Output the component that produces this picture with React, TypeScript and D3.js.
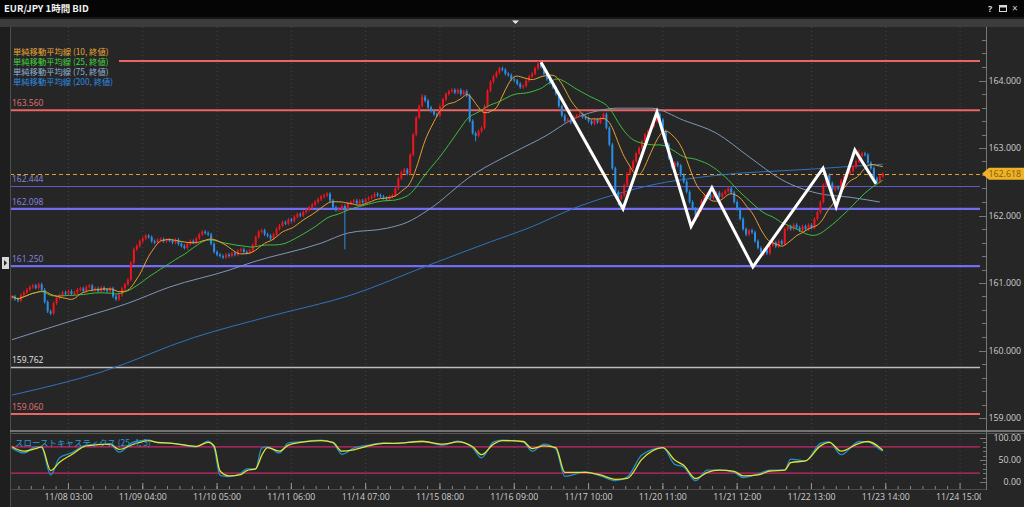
import * as d3 from 'd3';

// hourly closes EUR/JPY (one per bar)
const closes = [
  160.80, 160.76, 160.74, 160.82, 160.86, 160.90, 160.94, 160.96, 160.93, 160.98,
  160.90, 160.72, 160.58, 160.55, 160.70, 160.78, 160.82, 160.86, 160.84, 160.88,
  160.84, 160.86, 160.90, 160.92, 160.88, 160.94, 160.96, 160.90, 160.92, 160.88,
  160.93, 160.90, 160.88, 160.92, 160.80, 160.76, 160.82, 160.92, 160.98, 161.05,
  161.30, 161.50, 161.55, 161.62, 161.66, 161.70, 161.68, 161.62, 161.60, 161.64,
  161.65, 161.62, 161.64, 161.63, 161.60, 161.64, 161.58, 161.55, 161.52, 161.58,
  161.62, 161.60, 161.66, 161.72, 161.76, 161.74, 161.72, 161.58, 161.46, 161.42,
  161.40, 161.38, 161.42, 161.40, 161.44, 161.42, 161.48, 161.50, 161.46, 161.45,
  161.48, 161.56, 161.68, 161.76, 161.78, 161.72, 161.70, 161.66, 161.72, 161.80,
  161.85, 161.90, 161.88, 161.94, 161.92, 161.98, 162.02, 162.00, 162.05, 162.08,
  162.12, 162.16, 162.20, 162.24, 162.28, 162.30, 162.32, 162.22, 162.12, 162.08,
  162.10, 162.14, 162.10, 162.18, 162.20, 162.22, 162.18, 162.22, 162.20, 162.24,
  162.26, 162.28, 162.32, 162.30, 162.28, 162.26, 162.24, 162.28, 162.30, 162.40,
  162.55, 162.64, 162.68, 162.62, 162.90, 163.20, 163.45, 163.62, 163.76, 163.70,
  163.60, 163.55, 163.50, 163.48, 163.62, 163.72, 163.80, 163.84, 163.86, 163.82,
  163.86, 163.80, 163.84, 163.78, 163.40, 163.22, 163.18, 163.25, 163.30, 163.62,
  163.85, 163.98, 164.06, 164.12, 164.18, 164.16, 164.10, 164.08, 164.02, 164.00,
  163.95, 163.90, 163.92, 164.00, 164.06, 164.10, 164.18, 164.25, 164.20, 164.10,
  164.02, 163.96, 163.90, 163.80, 163.62, 163.48, 163.40, 163.42, 163.38, 163.46,
  163.48, 163.50, 163.46, 163.44, 163.40, 163.36, 163.42, 163.38, 163.44, 163.50,
  163.30, 163.05, 162.70, 162.35, 162.25, 162.30, 162.45, 162.62, 162.70, 162.80,
  162.92, 163.00, 163.10, 163.20, 163.25, 163.32, 163.40, 163.50, 163.42, 163.25,
  163.05, 162.85, 162.72, 162.78, 162.74, 162.60, 162.50, 162.35, 162.20, 162.10,
  162.00, 162.08, 162.22, 162.30, 162.32, 162.26, 162.30, 162.34, 162.28, 162.32,
  162.36, 162.40, 162.34, 162.20, 162.10, 161.95, 161.80, 161.72, 161.78, 161.75,
  161.62, 161.52, 161.46, 161.50, 161.44, 161.56, 161.60, 161.54, 161.62, 161.58,
  161.80, 161.84, 161.80, 161.86, 161.82, 161.78, 161.84, 161.80, 161.86, 161.82,
  161.95, 162.05, 162.20, 162.45, 162.60, 162.48, 162.38, 162.42, 162.40, 162.52,
  162.58, 162.62, 162.66, 162.72, 162.80, 162.88, 162.92, 162.90, 162.78, 162.70,
  162.55, 162.50, 162.58, 162.618,
];
const firstOpen = 160.78;

// long wicks that stick out
const wickLowIdx = [112, 156, 204, 230, 253];
const wickLowVal = [161.50, 163.10, 162.15, 161.92, 161.40];
const wickHighIdx = [138, 177, 217, 285];
const wickHighVal = [163.80, 164.29, 163.55, 162.98];

// 75 / 200 bar moving averages (need history before the window), read at a few bars
const ma75Idx = [0, 10, 23, 39, 53, 73, 81, 104, 113, 126, 133, 140, 155, 169, 180, 188, 197, 204, 215, 226, 237, 248, 259, 271, 282, 292];
const ma75Val = [160.16, 160.30, 160.48, 160.70, 160.94, 161.19, 161.31, 161.59, 161.74, 161.81, 161.90, 162.08, 162.60, 162.94, 163.19, 163.41, 163.55, 163.59, 163.59, 163.41, 163.22, 162.87, 162.53, 162.33, 162.27, 162.20];
const ma200Idx = [0, 30, 61, 87, 114, 140, 161, 173, 191, 206, 215, 236, 270, 293];
const ma200Val = [159.34, 159.68, 160.19, 160.51, 160.82, 161.26, 161.61, 161.80, 162.14, 162.35, 162.45, 162.59, 162.69, 162.76];

// slow stochastics (25, 4, 3)
const stochIdx = [0, 4, 8, 10, 13, 16, 20, 25, 33, 36, 41, 46, 49, 54, 62, 66, 68, 70, 73, 77, 79, 82, 84, 86, 90, 93, 97, 104, 108, 111, 115, 120, 125, 129, 138, 145, 150, 155, 158, 162, 165, 172, 175, 179, 183, 186, 193, 198, 203, 207, 212, 219, 223, 226, 230, 234, 238, 243, 246, 251, 255, 260, 262, 267, 272, 275, 279, 285, 288, 292, 293];
const stochK = [77, 66, 80, 78, 16, 55, 66, 84, 86, 68, 91, 95, 89, 88, 80, 93, 77, 15, 12, 20, 30, 30, 77, 80, 66, 89, 91, 95, 89, 63, 77, 84, 89, 88, 93, 84, 93, 77, 55, 91, 95, 91, 70, 86, 75, 13, 23, 14, 3, 11, 62, 78, 40, 34, 3, 27, 27, 22, 10, 18, 27, 27, 52, 48, 88, 91, 62, 92, 91, 74, 70];
const stochD = [80, 70, 76, 80, 26, 45, 62, 82, 86, 74, 86, 94, 90, 88, 81, 90, 82, 25, 14, 17, 26, 30, 60, 78, 70, 84, 90, 94, 90, 70, 73, 82, 88, 88, 92, 86, 91, 80, 62, 86, 94, 92, 76, 82, 78, 22, 22, 16, 6, 8, 52, 78, 50, 38, 8, 22, 27, 24, 14, 16, 25, 27, 44, 48, 82, 90, 70, 88, 92, 78, 72];

// horizontal levels drawn by hand (first label sits under the legend)
const levelVals = [164.288, 163.560, 162.444, 162.098, 161.250, 159.762, 159.060];
const levelKinds = ['red', 'red', 'thin', 'blue', 'blue', 'gray', 'red'];
const levelLabelShown = [false, true, true, true, true, true, true];
const lastPrice = 162.618;

// white zigzag annotation (bar, price)
const zigIdx = [178, 205.6, 217, 228.5, 235.5, 249.3, 272.9, 277.3, 283.6, 290.7];
const zigVal = [164.27, 162.10, 163.53, 161.84, 162.41, 161.24, 162.70, 162.13, 162.97, 162.47];

const timeLabels = ['11/08 03:00', '11/09 04:00', '11/10 05:00', '11/11 06:00', '11/14 07:00', '11/15 08:00', '11/16 09:00', '11/17 10:00', '11/20 11:00', '11/21 12:00', '11/22 13:00', '11/23 14:00', '11/24 15:00'];
const firstLabelBar = 19;
const barsPerLabel = 25;

const legendNames = ['単純移動平均線 (10, 終値)', '単純移動平均線 (25, 終値)', '単純移動平均線 (75, 終値)', '単純移動平均線 (200, 終値)'];

const BG = '#262626';
const PLOT = { left: 10, right: 982, top: 27, bottom: 430 };
const AXIS_X = 986;
const BAR_W = 2.972;
const X0 = 12;
const LEVEL_STYLE: Record<string, { color: string; label: string; width: number }> = {
  red: { color: '#ec6464', label: '#e07474', width: 2 },
  thin: { color: '#5f58c8', label: '#8a86d6', width: 1.2 },
  blue: { color: '#716cf2', label: '#8a86e6', width: 2.2 },
  gray: { color: '#bdbdbd', label: '#e4e4e4', width: 1.3 },
};
const MA_COLORS = ['#e8a030', '#3cc040', '#7d96b6', '#2f72c0'];
const LEGEND_COLORS = ['#e8a838', '#44d244', '#8fb0d8', '#2f8ae0'];
const UP = '#f0141e';
const DOWN = '#2a8ee6';
const STOCH_BAND = '#c8266a';
const NUM_FONT = '"Open Sans", "Noto Sans", sans-serif';
const JP_FONT = '"Noto Sans CJK JP", "Noto Sans", sans-serif';

const sma = (arr: number[], n: number) =>
  arr.map((_, i) => d3.mean(arr.slice(Math.max(0, i - n + 1), i + 1)) as number);

export default function App() {
  const x = d3.scaleLinear().domain([0, 100]).range([X0, X0 + 100 * BAR_W]);
  const y = d3.scaleLinear().domain([159, 164]).range([418, 80.5]);
  const ys = d3.scaleLinear().domain([0, 100]).range([482, 438]);

  const ohlc = closes.map((c, i) => {
    const o = i === 0 ? firstOpen : closes[i - 1];
    let h = Math.max(o, c) + 0.025;
    let l = Math.min(o, c) - 0.025;
    const li = wickLowIdx.indexOf(i);
    if (li >= 0) l = wickLowVal[li];
    const hi = wickHighIdx.indexOf(i);
    if (hi >= 0) h = wickHighVal[hi];
    return { i, o, h, l, c };
  });

  const ma10 = sma(closes, 10);
  const ma25 = sma(closes, 25);

  const denseLine = d3.line<number>().x((_, i) => x(i)).y(d => y(d)).curve(d3.curveMonotoneX);
  const sparseLine = (idx: number[], vals: number[], sc: d3.ScaleLinear<number, number>) =>
    d3.line<number>().x((_, i) => x(idx[i])).y(d => sc(d)).curve(d3.curveMonotoneX)(vals) || '';

  const priceTicks = d3.range(159, 164.8, 0.2).filter(v => y(v) > PLOT.top + 2 && y(v) < PLOT.bottom - 2);
  const majorPrices = [159, 160, 161, 162, 163, 164];
  const stochTicks = d3.range(0, 101, 10);
  const labelBars = timeLabels.map((_, k) => firstLabelBar + k * barsPerLabel);
  const minorBars = d3.range(0, 13 * 6).map(j => firstLabelBar - barsPerLabel + (j * barsPerLabel) / 6);

  const zigPts = zigIdx.map((b, k) => [x(b), y(zigVal[k])] as [number, number]);
  const lastY = y(lastPrice);
  const crisp = (v: number) => Math.round(v) + 0.5;

  return (
    <div>
      <style>{`body{margin:0;background:${BG};}`}</style>
      <svg width={1024} height={507} style={{ display: 'block' }}>
        <defs>
          <clipPath id="plotClip">
            <rect x={PLOT.left + 1} y={PLOT.top} width={PLOT.right - PLOT.left - 1} height={PLOT.bottom - PLOT.top} />
          </clipPath>
          <clipPath id="stochClip">
            <rect x={PLOT.left + 1} y={434} width={PLOT.right - PLOT.left - 1} height={54} />
          </clipPath>
          <clipPath id="timeClip">
            <rect x={0} y={488} width={981} height={19} />
          </clipPath>
        </defs>

        <rect x={0} y={0} width={1024} height={507} fill={BG} />
        {/* window chrome */}
        <rect x={0} y={0} width={1024} height={17} fill="#050505" />
        <text x={4} y={11.5} fill="#f2f2f2" fontSize={9.5} fontWeight="bold" fontFamily={JP_FONT}>EUR/JPY 1時間 BID</text>
        <text x={988} y={12} fill="#d8d8d8" fontSize={9} fontWeight="bold" fontFamily={NUM_FONT}>?</text>
        <rect x={999.5} y={5.5} width={7} height={6} fill="none" stroke="#d8d8d8" strokeWidth={1} />
        <rect x={999.5} y={5.5} width={7} height={2} fill="#d8d8d8" />
        <text x={1012} y={12} fill="#d8d8d8" fontSize={10} fontFamily={NUM_FONT}>×</text>
        <rect x={0} y={17} width={1024} height={2} fill="#161616" />
        <rect x={0} y={19} width={1024} height={8} fill="#3c3c3c" />
        <path d="M512,20.5 L519,20.5 L515.5,24 Z" fill="#e8e8e8" />
        <rect x={0} y={27} width={10} height={480} fill="#1e1e1e" />
        <line x1={10.5} x2={10.5} y1={27} y2={507} stroke="#4e4e4e" />
        <rect x={2} y={257} width={7} height={12} fill="#d8d8d8" />
        <path d="M4,260 L7,263 L4,266 Z" fill="#222" />

        {/* dotted time grid */}
        {labelBars.map(b => (
          <line key={`g${b}`} x1={x(b)} x2={x(b)} y1={PLOT.top} y2={488} stroke="#444" strokeDasharray="1,3" />
        ))}

        <g clipPath="url(#plotClip)">
          {/* level lines */}
          {levelVals.map((v, k) => {
            const st = LEVEL_STYLE[levelKinds[k]];
            const ly = st.width < 1.5 ? crisp(y(v)) : y(v);
            return (
              <g key={`lv${k}`}>
                <line x1={PLOT.left} x2={980} y1={ly} y2={ly} stroke={st.color} strokeWidth={st.width} />
                {levelLabelShown[k] && (
                  <text x={12} y={y(v) - 4} fill={st.label} fontSize={8.5} fontFamily={NUM_FONT}>{v.toFixed(3)}</text>
                )}
              </g>
            );
          })}
          <line x1={PLOT.left} x2={980} y1={crisp(lastY)} y2={crisp(lastY)} stroke="#e0a030" strokeWidth={1} strokeDasharray="4,3" />

          {/* moving averages */}
          <path d={sparseLine(ma200Idx, ma200Val, y)} fill="none" stroke={MA_COLORS[3]} strokeWidth={1} />
          <path d={sparseLine(ma75Idx, ma75Val, y)} fill="none" stroke={MA_COLORS[2]} strokeWidth={1} />

          {/* candles */}
          {ohlc.map(d => {
            const cx = x(d.i);
            const up = d.c >= d.o;
            const col = up ? UP : DOWN;
            const top = y(Math.max(d.o, d.c));
            const bot = y(Math.min(d.o, d.c));
            return (
              <g key={`c${d.i}`}>
                <line x1={cx} x2={cx} y1={y(d.h)} y2={y(d.l)} stroke={col} strokeWidth={1} />
                <rect x={cx - 1} y={top} width={2} height={Math.max(1, bot - top)} fill={col} />
              </g>
            );
          })}

          <path d={denseLine(ma25) || ''} fill="none" stroke={MA_COLORS[1]} strokeWidth={1} />
          <path d={denseLine(ma10) || ''} fill="none" stroke={MA_COLORS[0]} strokeWidth={1} />

          {/* zigzag */}
          <path d={d3.line()(zigPts) || ''} fill="none" stroke="#ffffff" strokeWidth={3} strokeLinejoin="miter" />

          {/* legend */}
          <rect x={11} y={45} width={108} height={43} fill={BG} />
          {legendNames.map((n, k) => (
            <text key={`lg${k}`} x={13} y={54.5 + k * 10.3} fill={LEGEND_COLORS[k]} fontSize={8.3} fontFamily={JP_FONT}>{n}</text>
          ))}
        </g>

        {/* price axis */}
        <line x1={AXIS_X + 0.5} x2={AXIS_X + 0.5} y1={PLOT.top} y2={490} stroke="#777" />
        {priceTicks.map(v => {
          const major = majorPrices.some(m => Math.abs(m - v) < 1e-6);
          return <line key={`pt${v.toFixed(1)}`} x1={major ? 979 : 982} x2={AXIS_X} y1={crisp(y(v))} y2={crisp(y(v))} stroke="#777" />;
        })}
        {majorPrices.map(v => (
          <text key={`pl${v}`} x={1021} y={y(v) + 3} fill="#cfcfcf" fontSize={8.8} textAnchor="end" fontFamily={NUM_FONT}>{v.toFixed(3)}</text>
        ))}
        <path d={`M982,${lastY} L989,${lastY - 6} L1024,${lastY - 6} L1024,${lastY + 6} L989,${lastY + 6} Z`} fill="#f0b225" />
        <text x={1021} y={lastY + 3} fill="#7a5c12" fontSize={8.8} textAnchor="end" fontFamily={NUM_FONT}>{lastPrice.toFixed(3)}</text>

        {/* panel separator */}
        <line x1={10} x2={1024} y1={431} y2={431} stroke="#8c8c8c" strokeWidth={1.5} />
        <line x1={10} x2={1024} y1={433.5} y2={433.5} stroke="#555" />

        {/* stochastics */}
        <g clipPath="url(#stochClip)">
          <line x1={PLOT.left} x2={980} y1={ys(80)} y2={ys(80)} stroke={STOCH_BAND} strokeWidth={1.3} />
          <line x1={PLOT.left} x2={980} y1={ys(20)} y2={ys(20)} stroke={STOCH_BAND} strokeWidth={1.3} />
          <path d={sparseLine(stochIdx, stochK, ys)} fill="none" stroke="#1f8fd0" strokeWidth={1.3} />
          <path d={sparseLine(stochIdx, stochD, ys)} fill="none" stroke="#e4e42c" strokeWidth={1.3} />
          <text x={15} y={446} fill="#2a9ad8" fontSize={8.5} fontFamily={JP_FONT}>スローストキャスティクス (25, 4, 3)</text>
        </g>
        {stochTicks.map(v => (
          <line key={`st${v}`} x1={v % 50 === 0 ? 980 : 983} x2={AXIS_X} y1={crisp(ys(v))} y2={crisp(ys(v))} stroke="#777" />
        ))}
        {[100, 50, 0].map(v => (
          <text key={`sl${v}`} x={1021} y={ys(v) + 3} fill="#cfcfcf" fontSize={8.8} textAnchor="end" fontFamily={NUM_FONT}>{v.toFixed(2)}</text>
        ))}

        {/* time axis */}
        <line x1={10} x2={AXIS_X} y1={489.5} y2={489.5} stroke="#4a4a4a" />
        {minorBars.filter(b => x(b) > 12 && x(b) < 982).map(b => (
          <line key={`mt${b.toFixed(2)}`} x1={x(b)} x2={x(b)} y1={486} y2={489} stroke="#888" />
        ))}
        {labelBars.map(b => (
          <line key={`Mt${b}`} x1={x(b)} x2={x(b)} y1={483} y2={489} stroke="#999" />
        ))}
        <g clipPath="url(#timeClip)">
          {timeLabels.map((t, k) => (
            <text key={`tl${k}`} x={x(labelBars[k])} y={500} fill="#d0d0d0" fontSize={8.8} textAnchor="middle" fontFamily={NUM_FONT}>{t}</text>
          ))}
        </g>
      </svg>
    </div>
  );
}
